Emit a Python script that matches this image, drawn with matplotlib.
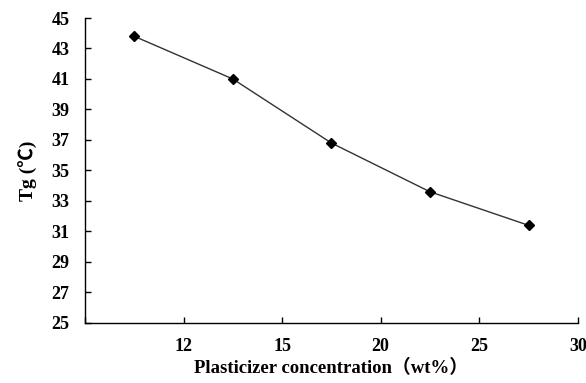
import matplotlib.pyplot as plt

# data
categories = ['10', '12', '15', '20', '25', '30']
tick_labels = ['', '12', '15', '20', '25', '30']
tg_values = [43.8, 41.0, 36.8, 33.6, 31.4]

plt.rcParams['font.family'] = ['Liberation Serif', 'Noto Sans CJK SC', 'DejaVu Sans']
plt.rcParams['font.weight'] = 'bold'

fig = plt.figure(figsize=(5.86, 3.83), dpi=100)
ax = fig.add_axes([0.145, 0.157, 0.841, 0.796])

x = [i + 0.5 for i in range(len(tg_values))]
ax.plot(x, tg_values, color='#333333', linewidth=1.0,
        marker='D', markersize=5, markerfacecolor='black', markeredgecolor='black')

ax.set_xlim(0, len(tg_values))
ax.set_ylim(25, 45)
ax.set_xticks(range(len(tick_labels)))
ax.set_xticklabels(tick_labels)
ax.set_yticks(range(25, 46, 2))

ax.spines['top'].set_visible(False)
ax.spines['right'].set_visible(False)
for s in ['left', 'bottom']:
    ax.spines[s].set_linewidth(1.0)
ax.tick_params(direction='in', length=4, width=1, labelsize=13)
ax.tick_params(axis='x', pad=11)
ax.tick_params(axis='y', pad=11)

ax.set_xlabel('Plasticizer concentration（wt%）', fontsize=13.5, fontweight='bold', labelpad=3)
ax.set_ylabel('Tg (℃)', fontsize=14, fontweight='bold', labelpad=10)

fig.savefig('out.png', dpi=100, facecolor='white')
